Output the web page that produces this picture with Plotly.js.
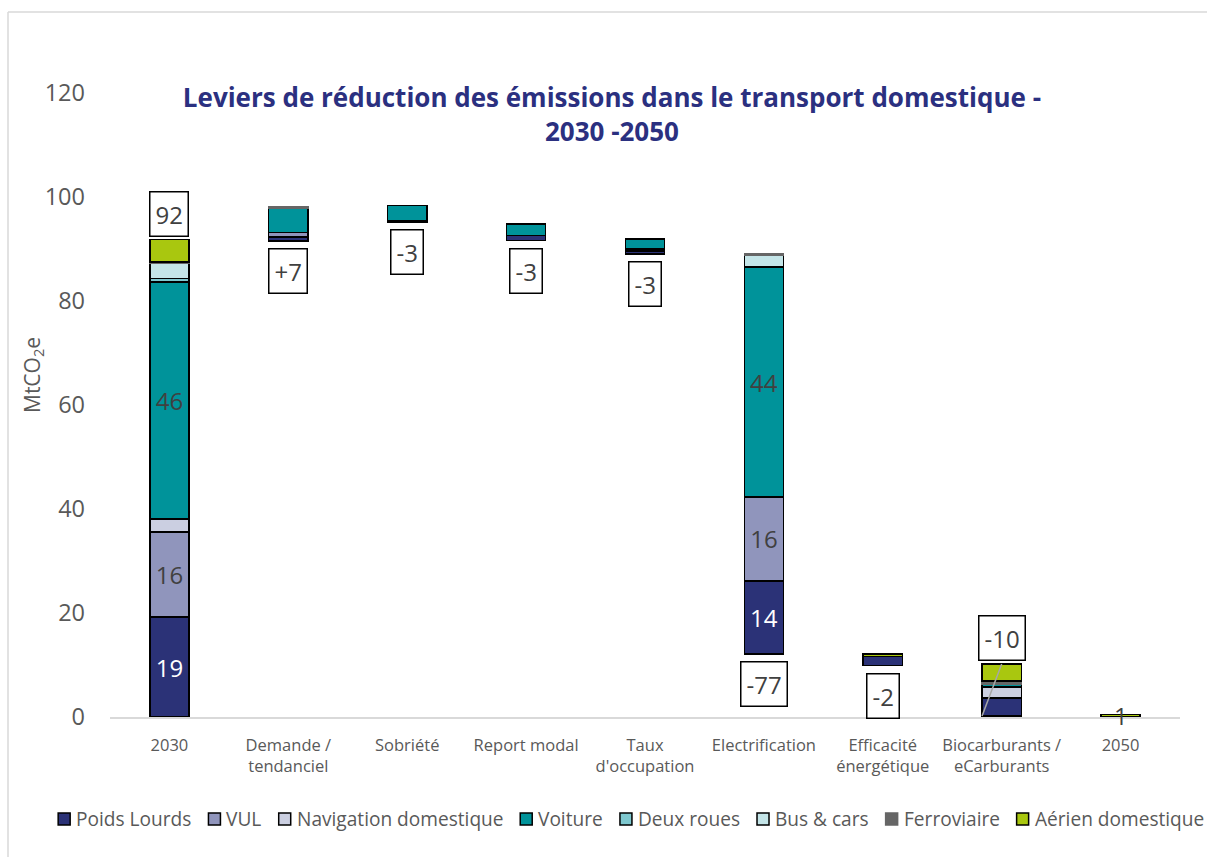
<!DOCTYPE html>
<html>
<head>
<meta charset="utf-8">
<script src="https://cdn.plot.ly/plotly-3.0.1.min.js"></script>
<style>html,body{margin:0;padding:0;background:#fff;}#chart{width:1207px;height:857px;}</style>
</head>
<body>
<div id="chart"></div>
<script>
// ---- Data (MtCO2e) ----
const categories = ['2030', 'Demande /<br>tendanciel', 'Sobriété', 'Report modal', "Taux<br>d'occupation",
  'Electrification', 'Efficacité<br>énergétique', 'Biocarburants /<br>eCarburants', '2050'];
const base = [0, 91.5, 95.1, 91.6, 89.0, 12.1, 9.9, 0.2, 0];
const poidsLourds = [19.2, 0.8, 0.3, 1.0, 0.6, 14.1, 1.7, 3.5, 0];
const vul = [16.4, 0.9, 0, 0, 0.4, 16.1, 0, 0, 0];
const navigation = [2.5, 0, 0, 0, 0, 0, 0, 2.1, 0];
const voiture = [45.6, 4.6, 3.0, 2.2, 1.9, 44.2, 0, 0.5, 0];
const deuxRoues = [0.6, 0, 0, 0, 0, 0, 0, 0, 0];
const busCars = [2.9, 0, 0, 0, 0, 2.3, 0, 0, 0];
const ferroviaire = [0.3, 0.4, 0, 0, 0, 0.2, 0, 0.6, 0];
const aerien = [4.3, 0, 0, 0, 0, 0, 0.5, 3.3, 0.5];
const stepLabels = ['92', '+7', '-3', '-3', '-3', '-77', '-2', '-10', '1'];
const plLabels = ['19', '', '', '', '', '14', '', '', ''];
const vulLabels = ['16', '', '', '', '', '16', '', '', ''];
const voitureLabels = ['46', '', '', '', '', '44', '', '', ''];
const seriesNames = ['Poids Lourds', 'VUL', 'Navigation domestique', 'Voiture', 'Deux roues', 'Bus & cars', 'Ferroviaire', 'Aérien domestique'];
const yTitle = 'MtCO<sub>2</sub>e';

// ---- Style ----
const FONT = 'Open Sans, sans-serif';
const GREY = '#595959';
const seriesValues = [poidsLourds, vul, navigation, voiture, deuxRoues, busCars, ferroviaire, aerien];
const seriesColors = ['#2b3277', '#9095bc', '#cbcfe1', '#00939a', '#7ec8cf', '#c4e5e8', '#666666', '#a9c70f'];
const seriesText = [plLabels, vulLabels, null, voitureLabels, null, null, null, null];
const textColors = ['#ffffff', '#404040', '#404040', '#404040', '#404040', '#404040', '#404040', '#404040'];
const labelPlacement = ['above', 'below', 'below', 'below', 'below', 'below', 'below', 'above', 'center'];
const BAR_HALF = 0.165;
const W = 1207, H = 857, ML = 110, MR = 27, MT = 93, MB = 140;
const PW = W - ML - MR, PH = H - MT - MB;
const px2x = px => (px - ML) / PW;
const py2y = py => (H - MB - py) / PH;

const nz = a => a.map(v => (v === 0 ? null : v));

const traces = [{
  type: 'bar', x: categories, y: base, name: 'base', showlegend: false, hoverinfo: 'skip',
  marker: {color: 'rgba(0,0,0,0)', line: {width: 0}}
}];
seriesValues.forEach((vals, i) => {
  const t = {
    type: 'bar', x: categories, y: nz(vals), name: seriesNames[i], showlegend: false,
    marker: {color: seriesColors[i], line: {color: i === 6 ? '#666666' : '#000000', width: 1.5}},
  };
  if (seriesText[i]) {
    t.text = seriesText[i];
    t.textposition = 'inside';
    t.insidetextanchor = 'middle';
    t.textangle = 0;
    t.textfont = {family: FONT, size: 24, color: textColors[i]};
    t.constraintext = 'none';
  } else {
    t.textposition = 'none';
  }
  traces.push(t);
});

const annotations = [];
const shapes = [];
categories.forEach((c, i) => {
  let total = 0;
  seriesValues.forEach(s => { total += s[i]; });
  const top = base[i] + total;
  const p = labelPlacement[i];
  if (p === 'center') {
    annotations.push({x: i, y: base[i] + total / 2, xref: 'x', yref: 'y', text: stepLabels[i], showarrow: false,
      yanchor: 'middle', font: {family: FONT, size: 24, color: '#404040'}});
  } else {
    annotations.push({
      x: i, y: p === 'above' ? top : base[i], xref: 'x', yref: 'y', text: stepLabels[i], showarrow: false,
      yanchor: p === 'above' ? 'bottom' : 'top', yshift: p === 'above' ? 3 : -7,
      font: {family: FONT, size: 24, color: '#404040'},
      bgcolor: '#ffffff', bordercolor: '#000000', borderwidth: 1.5, borderpad: 5
    });
  }
  if (i === 7) {
    shapes.push({type: 'line', xref: 'x', yref: 'y', x0: i, y0: top, x1: i - BAR_HALF, y1: base[i],
      line: {color: '#a6a6a6', width: 1.5}});
  }
});

// y-axis title
annotations.push({xref: 'paper', yref: 'paper', x: px2x(33), y: py2y(375), text: yTitle, textangle: -90,
  showarrow: false, xanchor: 'center', yanchor: 'middle', font: {family: FONT, size: 21, color: GREY}});

// ---- custom legend (squares + labels), laid out from measured text widths ----
const LEG_SIZE = 19.1;
const ctx = document.createElement('canvas').getContext('2d');
ctx.font = LEG_SIZE + 'px "Open Sans"';
const SQ = 12, GAP_SQ = 5, GAP_ITEM = 18;
const widths = seriesNames.map(n => ctx.measureText(n).width);
let totalW = 0;
widths.forEach((w, i) => { totalW += SQ + GAP_SQ + w + (i < widths.length - 1 ? GAP_ITEM : 0); });
let cx = 630.5 - totalW / 2;
const legY = 819;
seriesNames.forEach((n, i) => {
  shapes.push({type: 'rect', xref: 'paper', yref: 'paper',
    x0: px2x(cx), x1: px2x(cx + SQ), y0: py2y(legY + SQ / 2), y1: py2y(legY - SQ / 2),
    fillcolor: seriesColors[i], line: {color: i === 6 ? seriesColors[i] : '#000000', width: 1.5}});
  annotations.push({xref: 'paper', yref: 'paper', x: px2x(cx + SQ + GAP_SQ - 1), y: py2y(legY),
    xanchor: 'left', yanchor: 'middle', showarrow: false, text: n,
    font: {family: FONT, size: LEG_SIZE, color: GREY}});
  cx += SQ + GAP_SQ + widths[i] + GAP_ITEM;
});

// outer frame
shapes.push({type: 'line', xref: 'paper', yref: 'paper', x0: px2x(8), x1: px2x(8), y0: py2y(12), y1: py2y(900),
  line: {color: '#d9d9d9', width: 1.5}});
shapes.push({type: 'line', xref: 'paper', yref: 'paper', x0: px2x(8), x1: px2x(1300), y0: py2y(12), y1: py2y(12),
  line: {color: '#d9d9d9', width: 1.5}});

const layout = {
  width: W, height: H,
  margin: {l: ML, r: MR, t: MT, b: MB},
  paper_bgcolor: '#ffffff', plot_bgcolor: '#ffffff',
  barmode: 'stack', bargap: 0.67,
  font: {family: FONT, color: GREY},
  showlegend: false,
  title: {
    text: 'Leviers de réduction des émissions dans le transport domestique -<br>2030 -2050',
    font: {family: FONT, size: 26, color: '#2b3080', weight: 'bold'},
    xref: 'container', x: 0.507, xanchor: 'center',
    yref: 'container', y: 1 - 107 / H, yanchor: 'middle'
  },
  xaxis: {
    type: 'category', showgrid: false, zeroline: false,
    showline: true, linecolor: '#d9d9d9', linewidth: 2,
    tickfont: {family: FONT, size: 16.5, color: GREY},
    ticks: '', ticklabelstandoff: 12
  },
  yaxis: {
    range: [0, 120], dtick: 20, showgrid: false, zeroline: false, showline: false,
    tickfont: {family: FONT, size: 23.5, color: GREY},
    ticks: '', ticklabelstandoff: 24
  },
  annotations: annotations,
  shapes: shapes
};

Plotly.newPlot('chart', traces, layout, {displayModeBar: false, staticPlot: true});
</script>
</body>
</html>
